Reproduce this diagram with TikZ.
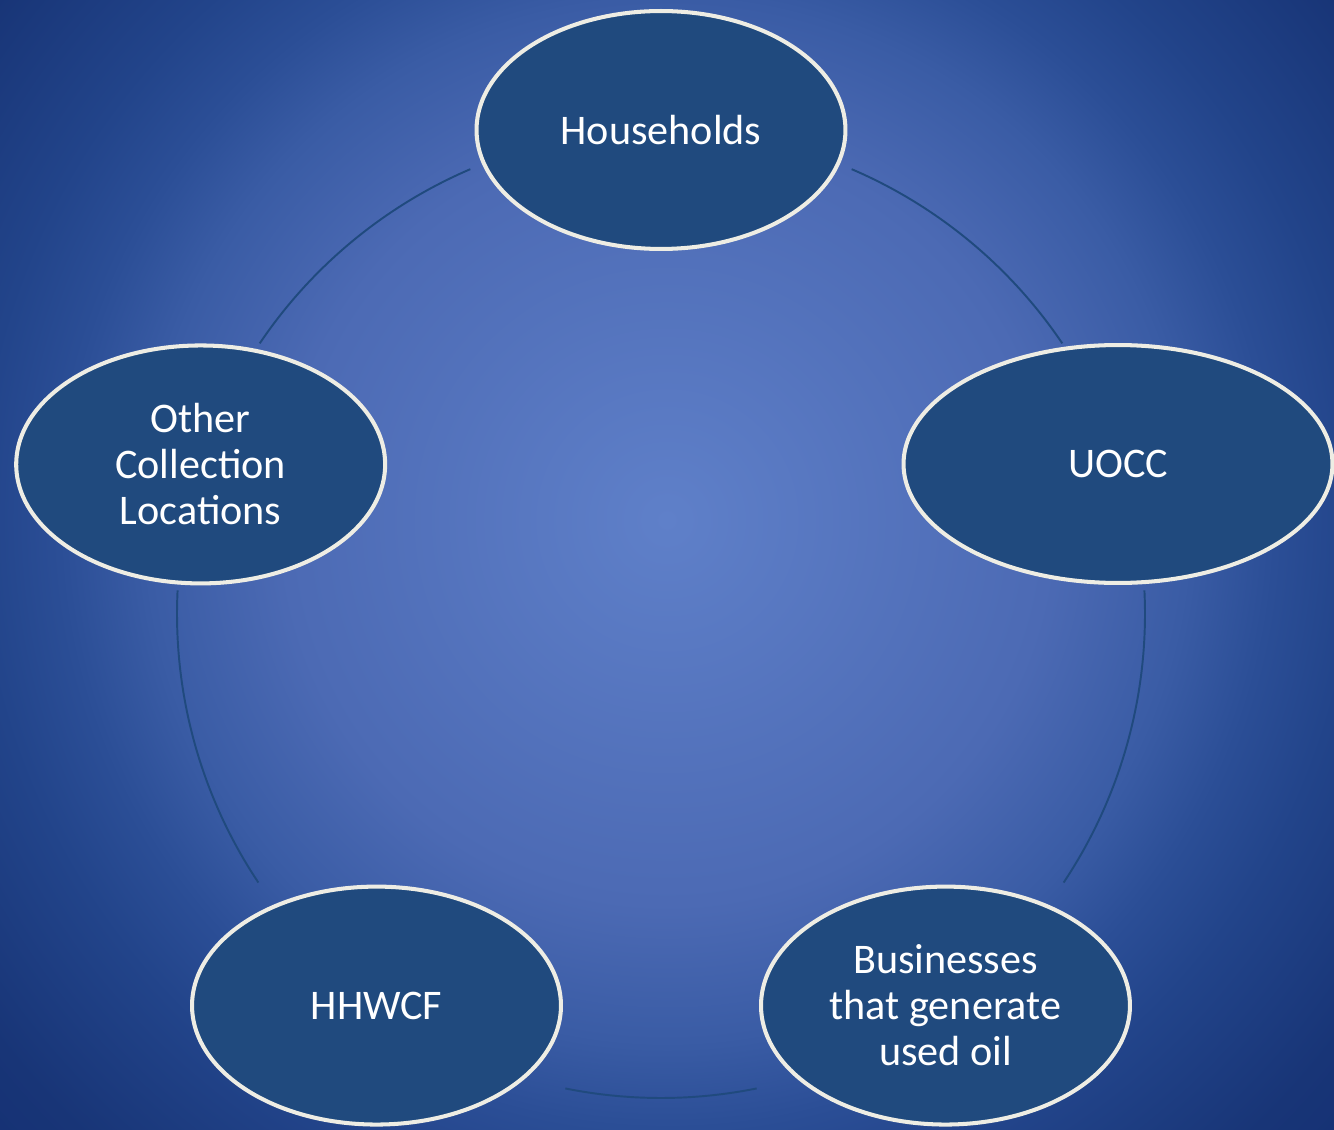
\documentclass[tikz,border=0pt]{standalone}
\usepackage{fontspec}
\setsansfont{Carlito}
\usetikzlibrary{shapes.geometric}
\definecolor{bgc0}{HTML}{5F80C9}
\definecolor{bgc1}{HTML}{4C6AB4}
\definecolor{bgc2}{HTML}{3A5CA5}
\definecolor{bgc3}{HTML}{2B4E96}
\definecolor{bgc4}{HTML}{22448A}
\definecolor{bgc5}{HTML}{183577}
\definecolor{bgc6}{HTML}{163275}
\definecolor{cyclefill}{HTML}{204A7E}
\definecolor{cycleborder}{HTML}{EEEDE4}
\pgfdeclareradialshading{bgshade}{\pgfpoint{0bp}{0bp}}{color(0bp)=(bgc0); color(10.6bp)=(bgc1); color(14.4bp)=(bgc2); color(16.8bp)=(bgc3); color(19.1bp)=(bgc4); color(23.4bp)=(bgc5); color(25bp)=(bgc6); color(50bp)=(bgc6)}

\begin{document}
\begin{tikzpicture}[x=0.02cm, y=0.02cm, cycle node/.style={ellipse,draw=cycleborder,fill=cyclefill,line width=2.3pt,minimum width=7.38cm,minimum height=4.76cm,inner sep=0pt,align=center,text=white,font=\sffamily\fontsize{24}{26.2}\selectfont}, cycle arc/.style={draw=cyclefill,line width=1.1pt}]
\useasboundingbox (-661,-515) rectangle (673,614);
\begin{scope}
\clip (-661,-515) rectangle (673,614);
\shade[shading=bgshade] (-899,-811) rectangle (911,999);
\end{scope}
\begin{scope}
\node[cycle node] (hh) at (90:484) {Households};
\node[cycle node,minimum width=8.58cm] (uocc) at (457,150) {UOCC};
\node[cycle node] (bus) at (-54:484) {Businesses\\that generate\\used oil};
\node[cycle node] (hhw) at (-126:484) {HHWCF};
\node[cycle node] (other) at (162:484) {Other\\Collection\\Locations};
\end{scope}
\begin{scope}
\coordinate (hh-out) at (66.8:484);
\coordinate (uocc-out) at (2.8:484);
\coordinate (bus-out) at (-78.6:484);
\coordinate (hhw-out) at (-146.3:484);
\coordinate (other-out) at (146:484);
\draw[cycle arc] (hh-out) arc[start angle=66.8, end angle=34, radius=484];
\draw[cycle arc] (uocc-out) arc[start angle=2.8, end angle=-33.7, radius=484];
\draw[cycle arc] (bus-out) arc[start angle=-78.6, end angle=-101.4, radius=484];
\draw[cycle arc] (hhw-out) arc[start angle=-146.3, end angle=-182.8, radius=484];
\draw[cycle arc] (other-out) arc[start angle=146, end angle=113.2, radius=484];
\end{scope}
\end{tikzpicture}
\end{document}
